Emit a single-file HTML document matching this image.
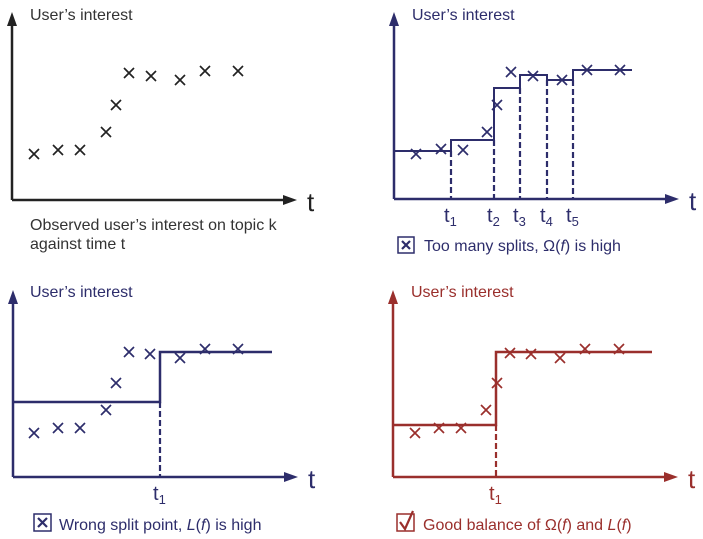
<!DOCTYPE html>
<html><head><meta charset="utf-8"><style>
body{margin:0;background:#fff}
svg text{font-family:"Liberation Sans",sans-serif}
</style></head><body>
<svg width="703" height="534" viewBox="0 0 703 534" xmlns="http://www.w3.org/2000/svg">
<defs>
<g id="x"><path d="M-5,-5L5,5M-5,5L5,-5" stroke-width="1.7" fill="none"/></g>
</defs>
<!-- Panel 1 -->
<g stroke="#222" fill="#222">
<line x1="12" y1="200" x2="12" y2="24" stroke-width="2.5"/>
<polygon points="12,12 7,26 17,26" stroke="none"/>
<line x1="12" y1="200" x2="284" y2="200" stroke-width="2.5"/>
<polygon points="297,200 283,195 283,205" stroke="none"/>
<g stroke="#222">
<use href="#x" x="34" y="154"/><use href="#x" x="58" y="150"/><use href="#x" x="80" y="150"/><use href="#x" x="106" y="132"/><use href="#x" x="116" y="105"/><use href="#x" x="129" y="73"/><use href="#x" x="151" y="76"/><use href="#x" x="180" y="80"/><use href="#x" x="205" y="71"/><use href="#x" x="238" y="71"/>
</g>
</g>
<text x="30" y="20" font-size="16" fill="#333">User’s interest</text>
<text x="307" y="211" font-size="26" fill="#222">t</text>
<text x="30" y="230" font-size="16" fill="#333">Observed user’s interest on topic k</text>
<text x="30" y="249" font-size="16" fill="#333">against time t</text>

<!-- Panel 2 -->
<g stroke="#2d2d6b" fill="#2d2d6b">
<line x1="394" y1="199" x2="394" y2="24" stroke-width="2.5"/>
<polygon points="394,12 389,26 399,26" stroke="none"/>
<line x1="394" y1="199" x2="666" y2="199" stroke-width="2.5"/>
<polygon points="679,199 665,194 665,204" stroke="none"/>
<polyline points="394,151 451,151 451,140 494,140 494,88 520,88 520,75 547,75 547,80 573,80 573,70 632,70" fill="none" stroke-width="2"/>
<g stroke-width="2.2" stroke-dasharray="6,3"><line x1="451" y1="151" x2="451" y2="199"/><line x1="494" y1="140" x2="494" y2="199"/><line x1="520" y1="88" x2="520" y2="199"/><line x1="547" y1="80" x2="547" y2="199"/><line x1="573" y1="80" x2="573" y2="199"/></g>
<use href="#x" x="416" y="154"/><use href="#x" x="441" y="149"/><use href="#x" x="463" y="150"/><use href="#x" x="487" y="132"/><use href="#x" x="497" y="105"/><use href="#x" x="511" y="72"/><use href="#x" x="533" y="76"/><use href="#x" x="562" y="80"/><use href="#x" x="587" y="70"/><use href="#x" x="620" y="70"/>
<rect x="398" y="237" width="16" height="16" fill="none" stroke-width="1.5"/>
<path d="M402,241L410,249M402,249L410,241" stroke-width="2.2"/>
</g>
<g fill="#2d2d6b">
<text x="412" y="20" font-size="16">User’s interest</text>
<text x="689" y="210" font-size="26">t</text>
<text x="444" y="222" font-size="20">t<tspan font-size="13" dy="4">1</tspan></text>
<text x="487" y="222" font-size="20">t<tspan font-size="13" dy="4">2</tspan></text>
<text x="513" y="222" font-size="20">t<tspan font-size="13" dy="4">3</tspan></text>
<text x="540" y="222" font-size="20">t<tspan font-size="13" dy="4">4</tspan></text>
<text x="566" y="222" font-size="20">t<tspan font-size="13" dy="4">5</tspan></text>
<text x="424" y="251" font-size="16">Too many splits, Ω(<tspan font-style="italic">f</tspan>)  is high</text>
</g>

<!-- Panel 3 -->
<g stroke="#2d2d6b" fill="#2d2d6b">
<line x1="13" y1="477" x2="13" y2="302" stroke-width="2.5"/>
<polygon points="13,290 8,304 18,304" stroke="none"/>
<line x1="13" y1="477" x2="285" y2="477" stroke-width="2.5"/>
<polygon points="298,477 284,472 284,482" stroke="none"/>
<polyline points="13,402 160,402 160,352 272,352" fill="none" stroke-width="2.5"/>
<line x1="160" y1="402" x2="160" y2="477" stroke-width="2.2" stroke-dasharray="6,3"/>
<use href="#x" x="34" y="433"/><use href="#x" x="58" y="428"/><use href="#x" x="80" y="428"/><use href="#x" x="106" y="410"/><use href="#x" x="116" y="383"/><use href="#x" x="129" y="352"/><use href="#x" x="150" y="354"/><use href="#x" x="180" y="358"/><use href="#x" x="205" y="349"/><use href="#x" x="238" y="349"/>
<rect x="34" y="514" width="17" height="17" fill="none" stroke-width="1.5"/>
<path d="M38,518L47,527M38,527L47,518" stroke-width="2.2"/>
</g>
<g fill="#2d2d6b">
<text x="30" y="297" font-size="16">User’s interest</text>
<text x="308" y="488" font-size="26">t</text>
<text x="153" y="500" font-size="20">t<tspan font-size="13" dy="4">1</tspan></text>
<text x="59" y="530" font-size="16">Wrong split point, <tspan font-style="italic">L</tspan>(<tspan font-style="italic">f</tspan>) is high</text>
</g>

<!-- Panel 4 -->
<g stroke="#9a2f2c" fill="#9a2f2c">
<line x1="393" y1="477" x2="393" y2="302" stroke-width="2.5"/>
<polygon points="393,290 388,304 398,304" stroke="none"/>
<line x1="393" y1="477" x2="665" y2="477" stroke-width="2.5"/>
<polygon points="678,477 664,472 664,482" stroke="none"/>
<polyline points="393,425 496,425 496,352 652,352" fill="none" stroke-width="2.5"/>
<line x1="496" y1="425" x2="496" y2="477" stroke-width="2.2" stroke-dasharray="6,3"/>
<use href="#x" x="415" y="433"/><use href="#x" x="439" y="428"/><use href="#x" x="461" y="428"/><use href="#x" x="486" y="410"/><use href="#x" x="497" y="383"/><use href="#x" x="510" y="353"/><use href="#x" x="531" y="354"/><use href="#x" x="560" y="358"/><use href="#x" x="585" y="349"/><use href="#x" x="619" y="349"/>
<rect x="397" y="514" width="17" height="17" fill="none" stroke-width="1.5"/>
<path d="M400,522L405,529L413,511" fill="none" stroke-width="2.2"/>
</g>
<g fill="#9a2f2c">
<text x="411" y="297" font-size="16">User’s interest</text>
<text x="688" y="488" font-size="26">t</text>
<text x="489" y="500" font-size="20">t<tspan font-size="13" dy="4">1</tspan></text>
<text x="423" y="530" font-size="16">Good balance of Ω(<tspan font-style="italic">f</tspan>) and <tspan font-style="italic">L</tspan>(<tspan font-style="italic">f</tspan>)</text>
</g>
</svg>
</body></html>
